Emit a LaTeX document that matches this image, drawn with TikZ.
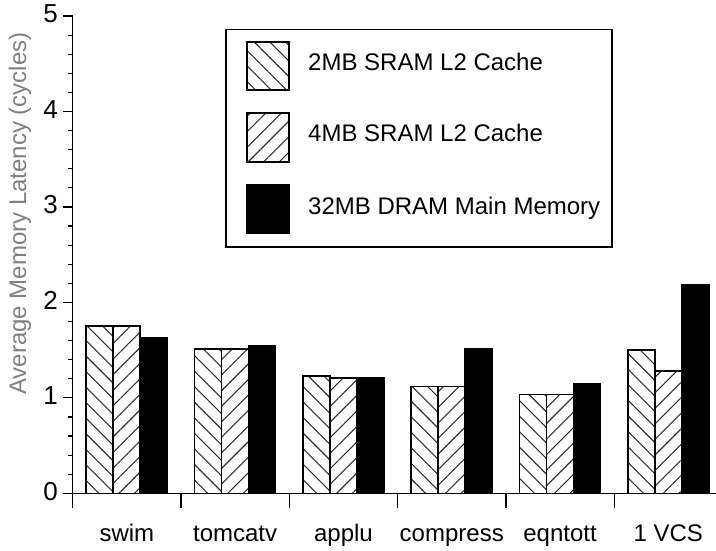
\documentclass[tikz,border=0pt]{standalone}
\usepackage{fontspec}
\setmainfont{Liberation Sans}
\usetikzlibrary{patterns.meta}
\definecolor{labelgray}{RGB}{128,128,128}
\begin{document}
\begin{tikzpicture}[x=1pt,y=1pt,
  txt/.style={font=\fontsize{24}{28}\selectfont, inner sep=0pt},
  ticklab/.style={font=\fontsize{26}{30}\selectfont, inner sep=0pt, anchor=east},
  barline/.style={line width=1.6pt},
  hatchA/.style={pattern={Lines[angle=-45,distance=11pt,line width=1.1pt]}, pattern color=black!80},
  hatchB/.style={pattern={Lines[angle=45,distance=11pt,line width=1.1pt]}, pattern color=black!80},
  solidbar/.style={fill=black, draw=black},
  axisline/.style={line width=1.2pt}]
\useasboundingbox (0,0) rectangle (716,-550);

% bars
\foreach \i/\a/\b/\c in {0/1.75/1.75/1.63, 1/1.51/1.51/1.545, 2/1.23/1.21/1.21,
                          3/1.117/1.117/1.515, 4/1.037/1.037/1.152, 5/1.50/1.28/2.18} {
  \pgfmathsetmacro\xl{72.7+108.3*\i+13.5}
  \draw[barline, hatchA] (\xl,-493.3) rectangle ++(27,\a*95.46);
  \draw[barline, hatchB] (\xl+27,-493.3) rectangle ++(27,\b*95.46);
  \draw[barline, solidbar] (\xl+54,-493.3) rectangle ++(27,\c*95.46);
}

% axes
\coordinate (ytop) at (72.7,-16);
\coordinate (ybot) at (72.7,-507.5);
\coordinate (xleft) at (72.7,-493.3);
\coordinate (xright) at (716,-493.3);
\draw[axisline] (ytop) -- (ybot);
\draw[axisline] (xleft) -- (xright);
\foreach \k in {0,...,25} {
  \draw[axisline] (72.7,-493.3+\k*0.2*95.46) -- ++(-5,0);
}
\foreach \k in {0,...,5} {
  \draw[axisline] (72.7,-493.3+\k*95.46) -- ++(-10,0);
  \node[ticklab] (t\k) at (58,-491.3+\k*95.46) {\k};
}
\foreach \i in {1,...,5} {
  \draw[axisline] (72.7+108.3*\i,-493.3) -- ++(0,-14.2);
}

% category labels
\foreach \i/\name in {0/swim, 1/tomcatv, 2/applu, 3/compress, 4/eqntott, 5/1 VCS} {
  \node[txt, anchor=base] (cat\i) at (72.7+108.3*\i+54.15,-541.5) {\name};
}

% y label
\node[txt, rotate=90, text=labelgray] (ylab) at (20,-213.5) {Average Memory Latency (cycles)};

% legend
\draw[line width=1.6pt] (226,-29.3) rectangle (612,-246.7);
\draw[barline, hatchA] (246.7,-41.7) rectangle (289,-90);
\draw[barline, hatchB] (246.7,-112.7) rectangle (289,-161.7);
\draw[barline, solidbar] (246.7,-184.3) rectangle (289,-232.7);
\node[txt, anchor=base west] (l1) at (308,-70) {2MB SRAM L2 Cache};
\node[txt, anchor=base west] (l2) at (308,-141.5) {4MB SRAM L2 Cache};
\node[txt, anchor=base west] (l3) at (308,-214) {32MB DRAM Main Memory};
\end{tikzpicture}
\end{document}
